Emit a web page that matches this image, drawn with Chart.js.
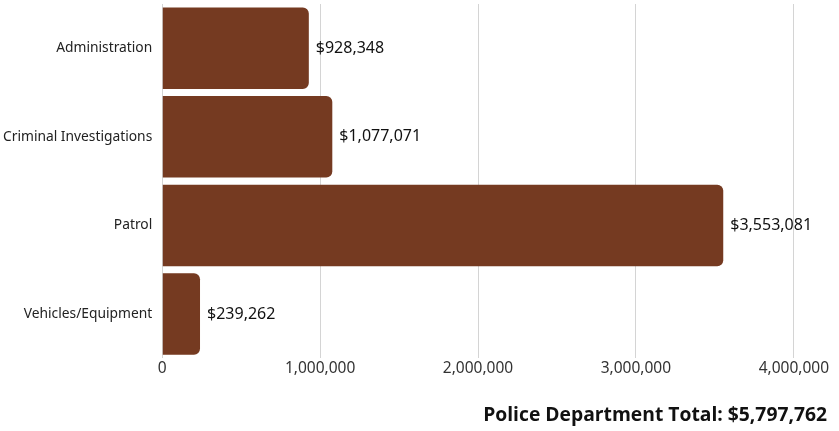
<!DOCTYPE html>
<html>
<head>
<meta charset="utf-8">
<script src="https://cdn.jsdelivr.net/npm/chart.js@4"></script>
<style>
  html, body { margin: 0; padding: 0; background: #fff; }
  #wrap { width: 839px; height: 431px; }
</style>
</head>
<body>
<div id="wrap"><canvas id="budget_chart"></canvas></div>
<script>
var divisions = ['Administration', 'Criminal Investigations', 'Patrol', 'Vehicles/Equipment'];
var amounts = [928348, 1077071, 3553081, 239262];
var xTicks = [0, 1000000, 2000000, 3000000, 4000000];
var totalText = 'Police Department Total: $5,797,762';

// writes the dollar value just past the end of each bar
var valueLabels = {
    id: 'valueLabels',
    afterDatasetsDraw: function (chart) {
        var ctx = chart.ctx;
        var meta = chart.getDatasetMeta(0);
        ctx.save();
        ctx.font = '16px "Noto Sans"';
        ctx.fillStyle = '#111';
        ctx.textAlign = 'left';
        ctx.textBaseline = 'middle';
        meta.data.forEach(function (bar, i) {
            ctx.fillText('$' + amounts[i].toLocaleString('en-US'), bar.x + 7, bar.y);
        });
        ctx.restore();
    }
};

var ctx = document.getElementById('budget_chart').getContext('2d');
var myChart = new Chart(ctx, {
    type: 'bar',
    data: {
        labels: divisions,
        datasets: [{
            data: amounts,
            backgroundColor: '#753a21',
            borderRadius: 6,
            barPercentage: 0.92,
            categoryPercentage: 1
        }]
    },
    options: {
        indexAxis: 'y',
        responsive: true,
        maintainAspectRatio: false,
        animation: false,
        layout: {
            padding: { top: 4, right: 12, left: 0, bottom: 0 }
        },
        scales: {
            x: {
                min: 0,
                max: 4000000,
                afterBuildTicks: function (axis) {
                    axis.ticks = xTicks.map(function (v) { return { value: v }; });
                },
                afterFit: function (axis) {
                    axis.paddingRight += 9;
                },
                grid: { color: '#d4d4d4', drawTicks: false },
                border: { display: false },
                ticks: {
                    padding: 1,
                    color: '#333',
                    font: { family: 'Noto Sans', size: 15.5 },
                    callback: function (v) { return v.toLocaleString('en-US'); }
                }
            },
            y: {
                // no extra room above/below for the category labels, narrower box
                afterFit: function (axis) {
                    axis.paddingTop = 0;
                    axis.paddingBottom = 0;
                    axis.width -= 7;
                },
                grid: { display: false, drawTicks: false },
                border: { display: false },
                ticks: {
                    padding: 10,
                    color: '#222',
                    font: { family: 'Noto Sans', size: 13.8 }
                }
            }
        },
        plugins: {
            legend: { display: false },
            tooltip: { enabled: false },
            title: {
                display: true,
                position: 'bottom',
                align: 'end',
                text: totalText,
                color: '#111',
                font: { family: 'Open Sans', size: 19.3, weight: 'bold' },
                padding: { top: 25, bottom: 4 }
            }
        }
    },
    plugins: [valueLabels]
});
</script>
</body>
</html>
